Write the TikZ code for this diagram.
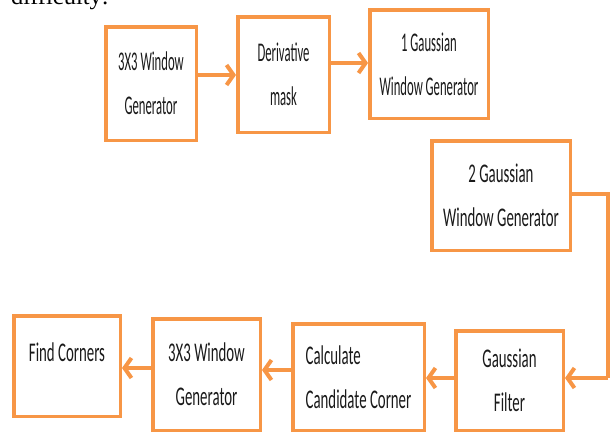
\documentclass[tikz,border=0pt]{standalone}
\usepackage{fontspec}
\newfontfamily\cf[FakeStretch=0.47]{Carlito}
\newfontfamily\cfw[FakeStretch=0.55]{Carlito}
\newfontfamily\tms{Liberation Serif}
\usetikzlibrary{arrows.meta}
\definecolor{borange}{HTML}{F79646}
\definecolor{btext}{HTML}{1A1A1A}
\tikzset{
  box/.style={draw=borange, line width=3.5pt, fill=white, text=btext,
    font=\cf\fontsize{27}{44}\selectfont, align=center, inner sep=0pt},
  wbox/.style={box, font=\cfw\fontsize{27}{44}\selectfont},
  txt/.style={text=btext, font=\cfw\fontsize{27}{44}\selectfont, inner sep=0pt},
  conn/.style={draw=borange, line width=4pt,
    -{Straight Barb[length=7pt,width=20pt,line width=4pt]}},
  wire/.style={draw=borange, line width=4pt}
}
\begin{document}
\begin{tikzpicture}[x=1pt,y=-1pt]
\useasboundingbox (0,0) rectangle (610,434);
\clip (0,0) rectangle (610,434);
\node[anchor=base west, inner sep=0pt, font=\tms\fontsize{24.5}{24.5}\selectfont] (diff) at (11,4) {difficulty:};
% boxes
\node[box, minimum width=90.5pt, minimum height=113.5pt] (n1) at (151,83.5) {3X3 Window\\Generator};
\node[box, minimum width=91.5pt, minimum height=115.5pt] (n2) at (283.5,74.5) {Derivative\\mask};
\node[box, minimum width=118.5pt, minimum height=108.5pt] (n3) at (429,64) {1 Gaussian\\Window Generator};
\node[wbox, minimum width=138.5pt, minimum height=109.5pt] (n4) at (501,195.5) {2 Gaussian\\Window Generator};
\node[wbox, minimum width=107.5pt, minimum height=99.5pt] (n5) at (509.5,380.5) {Gaussian\\Filter};
\node[wbox, minimum width=131.5pt, minimum height=106.5pt, align=left] (n6) at (358.5,377) {Calculate\\Candidate Corner};
\node[wbox, minimum width=107.5pt, minimum height=111.5pt] (n7) at (206.5,374.5) {3X3 Window\\Generator};
\node[wbox, minimum width=106.5pt, minimum height=100.5pt] (n8) at (67,366) {};
\node[txt] (t8) at (67,352) {Find Corners};
% connectors
\draw[conn] ([yshift=8.5pt]n1.east) -- ([yshift=8.5pt]n1.east -| n2.west);
\draw[conn] ([yshift=11.5pt]n2.east) -- ([yshift=11.5pt]n2.east -| n3.west);
\coordinate (rc) at (608,0);
\draw[wire] ([yshift=1.5pt]n4.east) -- ([yshift=1.5pt]n4.east -| rc) -- ([yshift=2.5pt]n5.east -| rc);
\draw[conn] ([yshift=2.5pt]n5.east -| rc) -- ([yshift=2.5pt]n5.east);
\draw[conn] ([yshift=2.5pt]n5.west) -- ([yshift=2.5pt]n5.west -| n6.east);
\draw[conn] ([yshift=7pt]n6.west) -- ([yshift=7pt]n6.west -| n7.east);
\draw[conn] ([yshift=6.5pt]n7.west) -- ([yshift=6.5pt]n7.west -| n8.east);
\end{tikzpicture}
\end{document}
